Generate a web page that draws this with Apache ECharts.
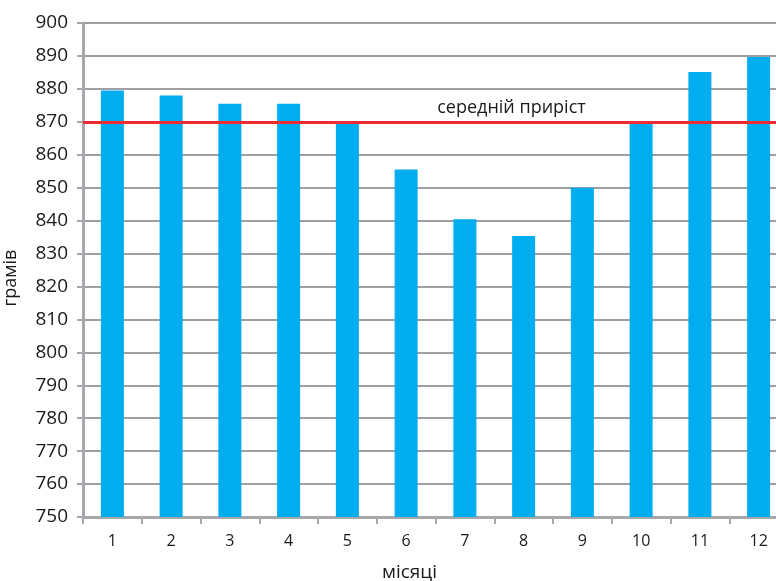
<!DOCTYPE html>
<html>
<head>
<meta charset="utf-8">
<script src="https://cdn.jsdelivr.net/npm/echarts@6/dist/echarts.min.js"></script>
<style>
  html, body { margin: 0; padding: 0; background: #ffffff; }
  #chart { width: 776px; height: 581px; }
</style>
</head>
<body>
<div id="chart"></div>
<script>
// Monthly weight gain, grams
const months = ['1', '2', '3', '4', '5', '6', '7', '8', '9', '10', '11', '12'];
const gain = [879.5, 878, 875.5, 875.5, 869.8, 855.5, 840.4, 835.3, 850, 869.7, 885.1, 889.7];
const averageGain = 870;
const averageLabel = 'середній приріст';

const fontFamily = '"Open Sans", "Noto Sans", sans-serif';
const textColor = '#1a1a1a';

const chart = echarts.init(document.getElementById('chart'), null, { renderer: 'canvas' });

chart.setOption({
  backgroundColor: '#ffffff',
  animation: false,
  grid: { left: 83, right: -12, top: 23, bottom: 64, containLabel: false, outerBoundsMode: 'none' },
  xAxis: {
    type: 'category',
    data: months,
    boundaryGap: true,
    name: 'місяці',
    nameLocation: 'middle',
    nameGap: 46,
    nameTextStyle: { fontFamily, fontSize: 19, color: textColor, padding: [0, 52, 0, 0] },
    axisLine: { lineStyle: { color: '#a8a8ac', width: 3 } },
    axisTick: { show: true, alignWithLabel: false, length: 7, lineStyle: { color: '#a8a8ac', width: 2 } },
    axisLabel: { fontFamily, fontSize: 16, color: textColor, margin: 16 },
    splitLine: { show: false }
  },
  yAxis: {
    type: 'value',
    min: 750,
    max: 900,
    interval: 10,
    name: 'грамів',
    nameLocation: 'middle',
    nameGap: 63,
    nameRotate: 90,
    nameTextStyle: { fontFamily, fontSize: 18, color: textColor, padding: [0, 16, 0, 0] },
    axisLine: { show: true, lineStyle: { color: '#a8a8ac', width: 3 } },
    axisTick: { show: true, length: 6, lineStyle: { color: '#a8a8ac', width: 2 } },
    axisLabel: { fontFamily, fontSize: 19, color: textColor, margin: 15 },
    splitLine: { show: true, lineStyle: { color: '#9e9ea3', width: 2 } }
  },
  series: [{
    type: 'bar',
    data: gain,
    barWidth: 23,
    itemStyle: { color: '#00adef' },
    markLine: {
      silent: true,
      symbol: 'none',
      data: [{ yAxis: averageGain }],
      lineStyle: { color: '#ee2a32', width: 3, type: 'solid' },
      label: {
        show: true,
        formatter: averageLabel,
        position: 'insideMiddleTop',
        offset: [76, 0],
        fontFamily,
        fontSize: 18,
        color: textColor,
        distance: 5
      }
    }
  }]
});
</script>
</body>
</html>
